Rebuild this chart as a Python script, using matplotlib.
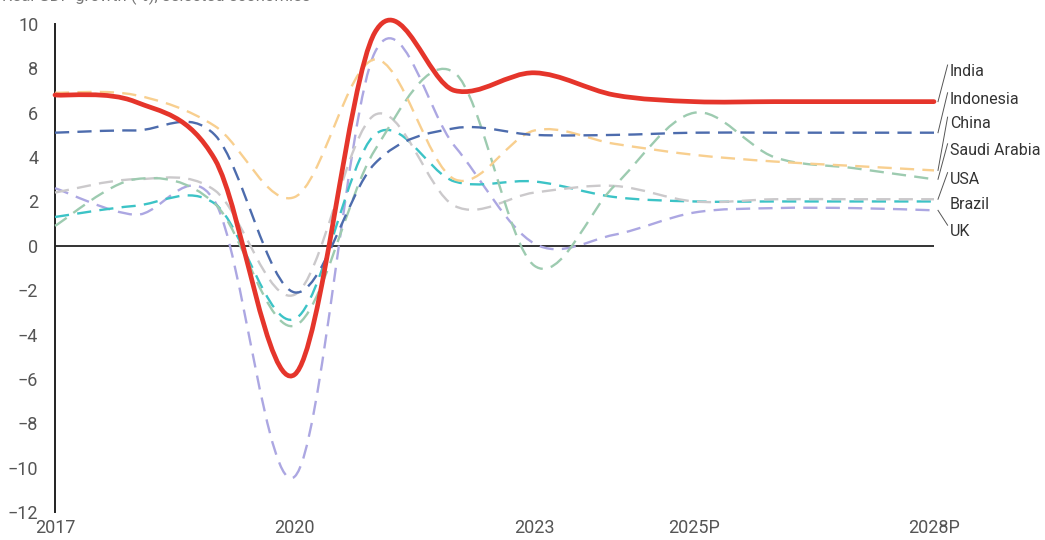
import matplotlib
matplotlib.use("Agg")
import matplotlib.pyplot as plt
from matplotlib.path import Path
from matplotlib.patches import PathPatch

plt.rcParams['font.family'] = ['Roboto', 'DejaVu Sans']

# Real GDP growth (%), annual values
years = list(range(2017, 2029))
tick_years = [2017, 2020, 2023, 2025, 2028]
tick_labels = ['2017', '2020', '2023', '2025P', '2028P']

india = [6.8, 6.5, 3.9, -5.8, 9.6, 7.0, 7.8, 6.8, 6.5, 6.5, 6.5, 6.5]
indonesia = [5.1, 5.2, 5.0, -2.1, 3.7, 5.3, 5.0, 5.0, 5.1, 5.1, 5.1, 5.1]
china = [6.9, 6.8, 5.4, 2.2, 8.4, 3.0, 5.2, 4.6, 4.1, 3.8, 3.6, 3.4]
saudi = [0.9, 3.0, 1.9, -3.6, 4.3, 7.8, -0.9, 2.7, 6.0, 4.0, 3.5, 3.0]
usa = [2.4, 3.0, 2.5, -2.2, 5.9, 1.8, 2.4, 2.7, 2.0, 2.1, 2.1, 2.1]
brazil = [1.3, 1.8, 1.9, -3.3, 5.0, 2.9, 2.9, 2.2, 2.0, 2.0, 2.0, 2.0]
uk = [2.6, 1.4, 2.0, -10.4, 8.7, 4.5, 0.1, 0.5, 1.5, 1.7, 1.7, 1.6]

# name, values, colour, label y (data units)
series = [
    ('India', india, '#e5352b', 7.85),
    ('Indonesia', indonesia, '#4d6cad', 6.6),
    ('China', china, '#f8cf8f', 5.5),
    ('Saudi Arabia', saudi, '#9dcbb0', 4.3),
    ('USA', usa, '#cbc9cb', 3.0),
    ('Brazil', brazil, '#3cc3c6', 1.85),
    ('UK', uk, '#aca7e2', 0.63),
]


def smooth_path(x, y):
    # Excel-like smoothed line: cubic bezier through every data point
    verts = [(x[0], y[0])]
    codes = [Path.MOVETO]
    n = len(x)
    for i in range(n - 1):
        a = max(i - 1, 0)
        b = min(i + 2, n - 1)
        c1 = (x[i] + (x[i + 1] - x[a]) / 6, y[i] + (y[i + 1] - y[a]) / 6)
        c2 = (x[i + 1] - (x[b] - x[i]) / 6, y[i + 1] - (y[b] - y[i]) / 6)
        verts += [c1, c2, (x[i + 1], y[i + 1])]
        codes += [Path.CURVE4] * 3
    return Path(verts, codes)


fig = plt.figure(figsize=(10.45, 5.4), dpi=100)
ax = fig.add_axes([55 / 1045, 1 - 512 / 540, (934 - 55) / 1045, (512 - 24) / 540])

# draw the dashed series first, India on top
for name, vals, color, _ in series[::-1]:
    if name == 'India':
        continue
    ax.add_patch(PathPatch(smooth_path(years, vals), fill=False, edgecolor=color,
                           lw=1.7, linestyle=(0, (6, 3.5)), zorder=3, clip_on=False))
ax.add_patch(PathPatch(smooth_path(years, india), fill=False, edgecolor='#e5352b',
                       lw=3.4, capstyle='round', joinstyle='round', zorder=5, clip_on=False))

ax.axhline(0, color='#111111', lw=1.2, zorder=2)

ax.set_xlim(2017, 2028)
ax.set_ylim(-12, 10)
ax.set_yticks(range(-12, 11, 2))
ax.set_xticks(tick_years)
ax.set_xticklabels(tick_labels)

for s in ['top', 'right', 'bottom']:
    ax.spines[s].set_visible(False)
ax.spines['left'].set_color('#222222')
ax.spines['left'].set_linewidth(1.4)
ax.tick_params(axis='y', length=0, pad=12, labelsize=13, labelcolor='#555555')
ax.tick_params(axis='x', length=0, pad=5, labelsize=13, labelcolor='#555555')

# labels at the right end with thin leader lines
for name, vals, color, label_y in series:
    ax.text(2028.2, label_y, name, fontsize=11.5, color='#333333',
            ha='left', va='center', clip_on=False)
    if name != 'Brazil':
        ax.plot([2028.05, 2028.17], [vals[-1], label_y + 0.3], color='#555555',
                lw=0.7, clip_on=False)

# chart heading, cut off at the top edge as in the source image
fig.text(0.002, 1 - 1.5 / 540, 'Real GDP growth (%), selected economies', fontsize=12,
         color='#777777', ha='left', va='baseline')

fig.savefig('out.png', dpi=100)
